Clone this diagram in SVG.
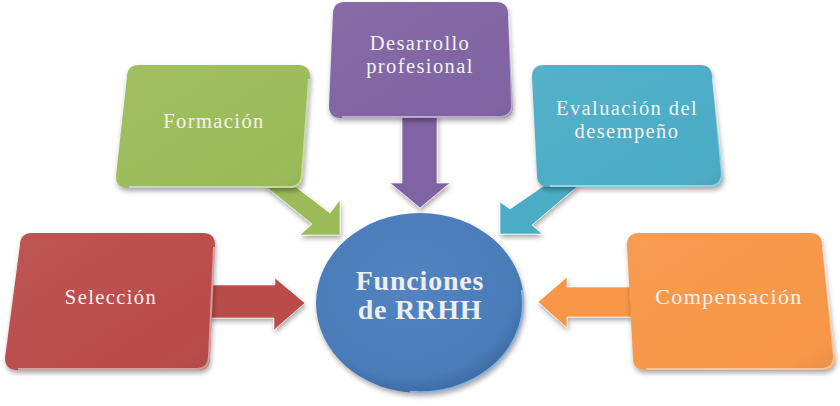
<svg xmlns="http://www.w3.org/2000/svg" width="840" height="406" viewBox="0 0 840 406">
<defs>
<filter id="sh" x="-10%" y="-10%" width="125%" height="130%">
<feDropShadow dx="1" dy="3" stdDeviation="2.5" flood-color="#000" flood-opacity="0.35"/>
</filter>
<linearGradient id="gloss" x1="0" y1="0" x2="1" y2="1">
<stop offset="0" stop-color="#fff" stop-opacity="0.06"/>
<stop offset="0.8" stop-color="#fff" stop-opacity="0"/>
<stop offset="1" stop-color="#000" stop-opacity="0.06"/>
</linearGradient>
<radialGradient id="cg" cx="0.45" cy="0.4" r="0.6">
<stop offset="0" stop-color="#5383c0"/>
<stop offset="0.85" stop-color="#4a7cb9"/>
<stop offset="1" stop-color="#3f6ca6"/>
</radialGradient>
</defs>
<style>
.t{font-family:"Liberation Serif","Times New Roman",serif;font-size:20.5px;fill:#f2f2f2;text-anchor:middle;letter-spacing:1.4px}
.c{font-family:"Liberation Serif","Times New Roman",serif;font-size:28px;font-weight:bold;fill:#eeeeee;text-anchor:middle;letter-spacing:0.8px}
.edge{fill:none;stroke:#fff;stroke-opacity:0.45;stroke-width:2}
.ar{filter:url(#sh);stroke:#fff;stroke-opacity:0.6;stroke-width:1}
</style>

<g id="connectors">
<polygon class="ar" fill="#b94b48" points="208,285 275,285 275,278 305,303 274,330 274,318 208,318"/>
<polygon class="ar" fill="#9bbb59" points="265,186 292,184 330,213 340,200 340,235 300,235 312,224"/>
<polygon class="ar" fill="#8064a2" points="402,114 437,114 437,183 450,183 420,208 390,183 402,183"/>
<polygon class="ar" fill="#4bacc6" points="578,186 545,185 510,209 500,202 500,234 542,234 532,225"/>
<polygon class="ar" fill="#f79646" points="632,287 567,287 567,277 538,302 567,328 567,317 632,317"/>
</g>

<g id="seleccion">
<path filter="url(#sh)" fill="#b94b48" d="M32,233 L203,233 Q215,233 215,245 L210,358 Q210,370 198,370 L17,370 Q5,370 5,358 L20,245 Q20,233 32,233 Z"/>
<path fill="url(#gloss)" d="M32,233 L203,233 Q215,233 215,245 L210,358 Q210,370 198,370 L17,370 Q5,370 5,358 L20,245 Q20,233 32,233 Z"/>
<path class="edge" d="M214,247 L209,357 Q209,368 198,369 L18,369"/>
<text class="t" x="111" y="304">Selección</text>
</g>

<g id="formacion">
<path filter="url(#sh)" fill="#9bbb59" d="M139,65 L298,65 Q310,65 310,77 L303,176 Q303,188 291,188 L128,188 Q116,188 116,176 L127,77 Q127,65 139,65 Z"/>
<path fill="url(#gloss)" d="M139,65 L298,65 Q310,65 310,77 L303,176 Q303,188 291,188 L128,188 Q116,188 116,176 L127,77 Q127,65 139,65 Z"/>
<path class="edge" d="M309,79 L302,175 Q302,186 291,187 L129,187"/>
<text class="t" x="214" y="128">Formación</text>
</g>

<g id="desarrollo">
<path filter="url(#sh)" fill="#8064a2" d="M345,2 L496,2 Q508,2 508,14 L513,106 Q513,118 501,118 L341,118 Q329,118 329,106 L333,14 Q333,2 345,2 Z"/>
<path fill="url(#gloss)" d="M345,2 L496,2 Q508,2 508,14 L513,106 Q513,118 501,118 L341,118 Q329,118 329,106 L333,14 Q333,2 345,2 Z"/>
<path class="edge" d="M509,16 L512,105 Q512,116 501,117 L342,117"/>
<text class="t" x="420" y="50">Desarrollo</text>
<text class="t" x="420" y="73">profesional</text>
</g>

<g id="evaluacion">
<path filter="url(#sh)" fill="#4bacc6" d="M544,65 L700,65 Q712,65 712,77 L723,175 Q723,187 711,187 L549,187 Q537,187 537,175 L532,77 Q532,65 544,65 Z"/>
<path fill="url(#gloss)" d="M544,65 L700,65 Q712,65 712,77 L723,175 Q723,187 711,187 L549,187 Q537,187 537,175 L532,77 Q532,65 544,65 Z"/>
<path class="edge" d="M713,79 L722,174 Q722,185 711,186 L550,186"/>
<text class="t" x="627" y="115">Evaluación del</text>
<text class="t" x="627" y="138">desempeño</text>
</g>

<g id="compensacion">
<path filter="url(#sh)" fill="#f79646" d="M639,233 L810,233 Q822,233 822,245 L835,358 Q835,370 823,370 L645,370 Q633,370 633,358 L627,245 Q627,233 639,233 Z"/>
<path fill="url(#gloss)" d="M639,233 L810,233 Q822,233 822,245 L835,358 Q835,370 823,370 L645,370 Q633,370 633,358 L627,245 Q627,233 639,233 Z"/>
<path class="edge" d="M823,247 L834,357 Q834,368 823,369 L646,369"/>
<text class="t" x="729" y="304" style="font-size:22px">Compensación</text>
</g>

<g id="center">
<ellipse filter="url(#sh)" cx="420" cy="303" rx="104" ry="90" fill="url(#cg)"/>
<path fill="none" stroke="#9cc0ea" stroke-opacity="0.8" stroke-width="2.5" d="M522,290 A103,89 0 0 1 410,392"/>
<text class="c" x="420" y="290">Funciones</text>
<text class="c" x="420" y="319">de RRHH</text>
</g>
</svg>
